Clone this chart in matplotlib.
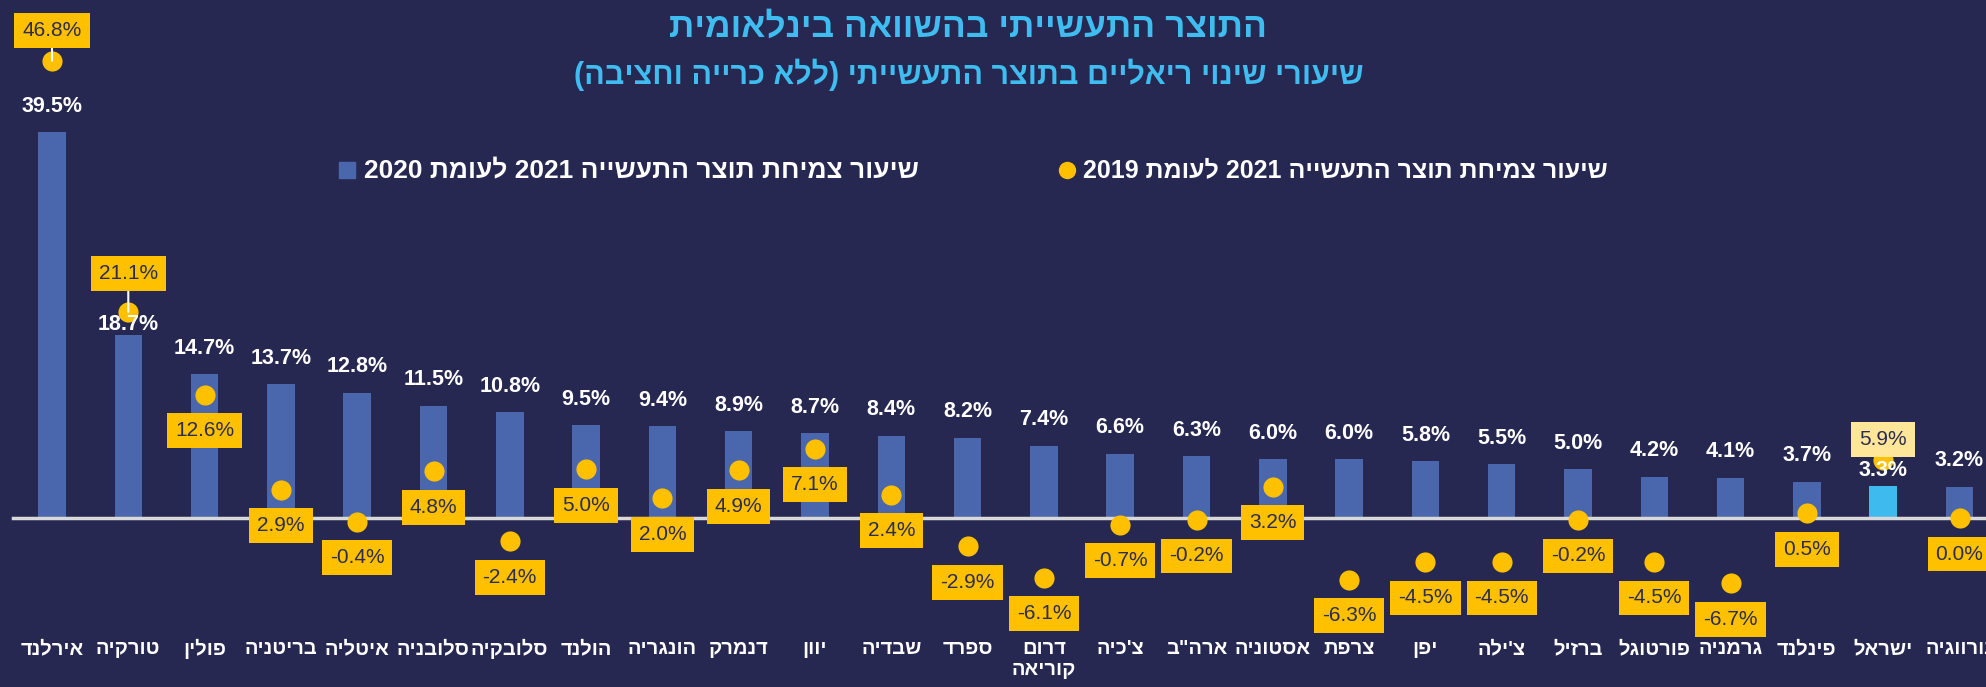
import re
import matplotlib
matplotlib.use("Agg")
import matplotlib.pyplot as plt

# ---------------- data ----------------
countries = ["אירלנד", "טורקיה", "פולין", "בריטניה", "איטליה", "סלובניה", "סלובקיה",
             "הולנד", "הונגריה", "דנמרק", "יוון", "שבדיה", "ספרד", "דרום\nקוריאה",
             "צ'כיה", "ארה\"ב", "אסטוניה", "צרפת", "יפן", "צ'ילה", "ברזיל",
             "פורטוגל", "גרמניה", "פינלנד", "ישראל", "נורווגיה"]
growth_vs_2020 = [39.5, 18.7, 14.7, 13.7, 12.8, 11.5, 10.8, 9.5, 9.4, 8.9, 8.7, 8.4, 8.2,
                  7.4, 6.6, 6.3, 6.0, 6.0, 5.8, 5.5, 5.0, 4.2, 4.1, 3.7, 3.3, 3.2]
growth_vs_2019 = [46.8, 21.1, 12.6, 2.9, -0.4, 4.8, -2.4, 5.0, 2.0, 4.9, 7.1, 2.4, -2.9,
                  -6.1, -0.7, -0.2, 3.2, -6.3, -4.5, -4.5, -0.2, -4.5, -6.7, 0.5, 5.9, 0.0]
title = "התוצר התעשייתי בהשוואה בינלאומית"
subtitle = "שיעורי שינוי ריאליים בתוצר התעשייתי (ללא כרייה וחציבה)"
legend_bar = "שיעור צמיחת תוצר התעשייה 2021 לעומת 2020"
legend_dot = "שיעור צמיחת תוצר התעשייה 2021 לעומת 2019"
highlight = "ישראל"

# ---------------- styling ----------------
BG = "#262851"
BAR = "#4a66ac"
BAR_HI = "#3fbaef"
YEL = "#ffc000"
YEL_HI = "#ffe699"
TITLE_C = "#3fbcf0"
BOXTXT = "#2b2d52"
FONT = ["Liberation Sans", "DejaVu Sans"]
plt.rcParams["font.family"] = FONT

_mirror = str.maketrans("()", ")(")


def heb(s):
    """Visual (left-to-right) ordering for Hebrew text with embedded numbers."""
    lines = []
    for line in s.split("\n"):
        tokens = re.findall(r"\d+|\D+", line)
        out = []
        for t in reversed(tokens):
            out.append(t if t.isdigit() else t[::-1].translate(_mirror))
        lines.append("".join(out))
    return "\n".join(lines)


W, H = 1986, 687
fig = plt.figure(figsize=(W / 100, H / 100), dpi=100, facecolor=BG)
ax = fig.add_axes([0, 0, 1, 1])
ax.set_facecolor(BG)
ax.axis("off")

zero_px = 518.0
px_per_unit = 9.77
ax.set_ylim(-(H - zero_px) / px_per_unit, zero_px / px_per_unit)
spacing = 76.3
first_px = 52.0
ax.set_xlim(-first_px / spacing, (W - first_px) / spacing)

x = list(range(len(countries)))
colors = [BAR_HI if c == highlight else BAR for c in countries]
ax.bar(x, growth_vs_2020, width=0.36, color=colors, zorder=2)
ax.axhline(0, xmin=13 / W, xmax=1, color="#d9d9d9", lw=2.5, zorder=3)
ax.plot(x, growth_vs_2019, linestyle="none", marker="o", markersize=14.5,
        color=YEL, markeredgewidth=0, zorder=4)

# bar value labels
bar_label_off = {"טורקיה": 11, "ישראל": 15}
for xi, v, c in zip(x, growth_vs_2020, countries):
    ax.annotate(f"{v:.1f}%", (xi, v), xytext=(0, bar_label_off.get(c, 26)),
                textcoords="offset pixels", ha="center", va="center",
                color="white", fontsize=15.5, fontweight="bold", zorder=5)

# dot value labels (boxed)
dot_label_off = {"אירלנד": 30, "טורקיה": 38, "ישראל": 21}
leader = {"אירלנד", "טורקיה"}
for xi, v, c in zip(x, growth_vs_2019, countries):
    off = dot_label_off.get(c, -36)
    fc = YEL_HI if c == highlight else YEL
    kw = {}
    if c in leader:
        kw["arrowprops"] = dict(arrowstyle="-", color="white", lw=1.5,
                                shrinkA=0, shrinkB=0)
    ax.annotate(f"{v:.1f}%", (xi, v), xytext=(0, off), textcoords="offset pixels",
                ha="center", va="center", color=BOXTXT, fontsize=15,
                bbox=dict(boxstyle="square,pad=0.38", fc=fc, ec="none"),
                zorder=6, **kw)

# category labels
for xi, c in zip(x, countries):
    ax.text(xi, -12.4, heb(c), ha="center", va="top", color="white",
            fontsize=14.5, fontweight="bold", linespacing=1.15, zorder=5)

# titles
fig.text(968 / W, 1 - 27 / H, heb(title), ha="center", va="center",
         color=TITLE_C, fontsize=25.5, fontweight="bold")
fig.text(969 / W, 1 - 75 / H, heb(subtitle), ha="center", va="center",
         color=TITLE_C, fontsize=22, fontweight="bold")

# legend
ly = 1 - 170 / H
fig.lines.append(plt.Line2D([347 / W], [ly], marker="s", markersize=12, color=BAR,
                            linestyle="none", transform=fig.transFigure))
fig.text(364 / W, ly, heb(legend_bar), ha="left", va="center", color="white",
         fontsize=19, fontweight="bold")
fig.lines.append(plt.Line2D([1067 / W], [ly], marker="o", markersize=11.5, color=YEL,
                            linestyle="none", transform=fig.transFigure))
fig.text(1083 / W, ly, heb(legend_dot), ha="left", va="center", color="white",
         fontsize=18, fontweight="bold")

fig.savefig("out.png", dpi=100, facecolor=BG)
